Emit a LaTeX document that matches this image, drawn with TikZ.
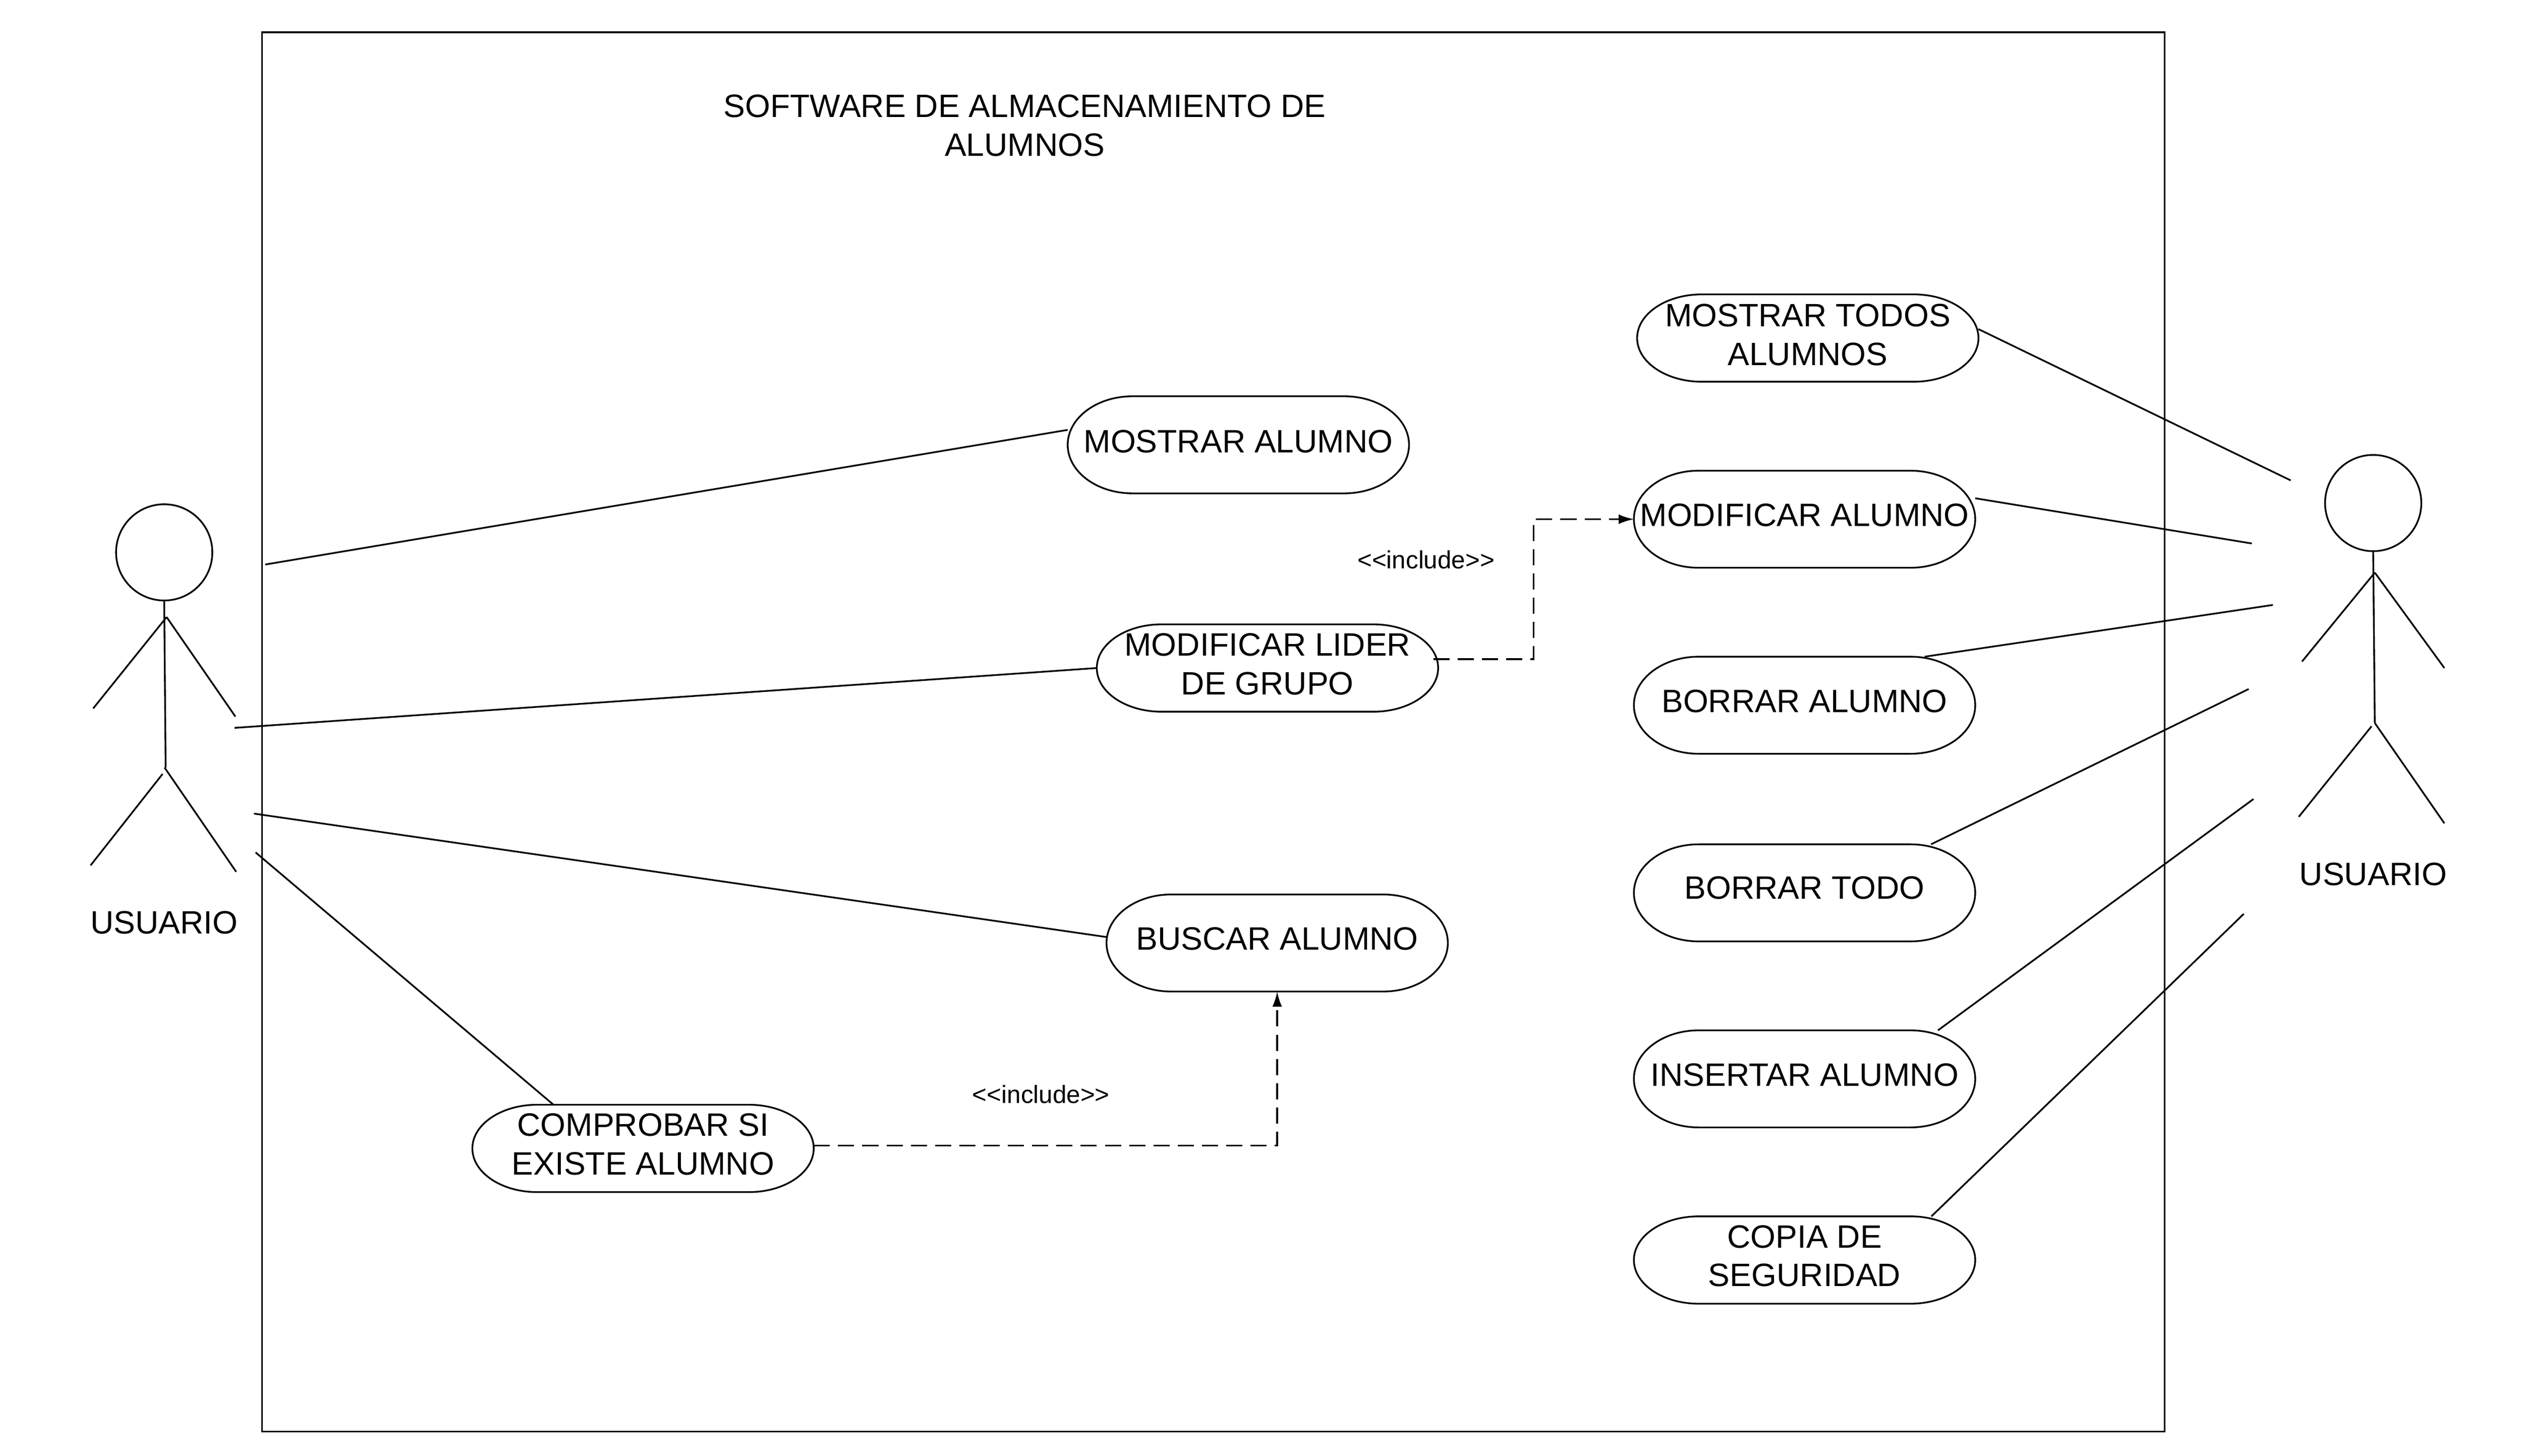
\documentclass[tikz,border=0pt]{standalone}
\usepackage{fontspec}
\setmainfont{Liberation Sans}
\usetikzlibrary{arrows.meta}
\tikzset{
  ln/.style={draw=black,line width=1.05pt},
  dashln/.style={ln,dash pattern=on 10pt off 5pt,-{Latex[length=9.4pt,width=6pt]}},
  pillbox/.style={rectangle,inner sep=0pt,outer sep=0pt},
  lab/.style={inner sep=0pt,outer sep=0pt,align=center,font=\fontsize{20}{24}\selectfont},
  smalllab/.style={inner sep=0pt,outer sep=0pt,align=center,font=\fontsize{15.4}{19}\selectfont},
  headc/.style={circle,draw=black,line width=1.05pt,minimum size=59.5pt,inner sep=0pt,outer sep=0pt}
}
% name, x1, x2, y1, y2, text y centre, text
\newcommand{\pill}[7]{%
  \node[pillbox,minimum width={(#3-#2)*1pt},minimum height={(#5-#4)*1pt}] (#1) at ({(#2+#3)/2},{(#4+#5)/2}) {};
  \draw[ln] ({#2+40},#4) -- ({#3-40},#4) arc[start angle=90,end angle=0,x radius=40pt,y radius={(#5-#4)/2*1pt}]
    arc[start angle=0,end angle=-90,x radius=40pt,y radius={(#5-#4)/2*1pt}] -- ({#2+40},#5)
    arc[start angle=-90,end angle=-180,x radius=40pt,y radius={(#5-#4)/2*1pt}]
    arc[start angle=180,end angle=90,x radius=40pt,y radius={(#5-#4)/2*1pt}] -- cycle;
  \node[lab] (#1-text) at ({(#2+#3)/2},#6) {#7};
}
\begin{document}
\begin{tikzpicture}[x=1pt,y=-1pt]
\useasboundingbox (0,0) rectangle (1559,900);
\fill[white] (0,0) rectangle (1559,900);
\node[pillbox,draw=black,line width=1.05pt,minimum width=1176pt,minimum height=865pt] (frame) at (750,452.5) {};
\node[lab] (title) at (633.5,77.5) {SOFTWARE DE ALMACENAMIENTO DE\\ALUMNOS};

\pill{todos}{1012}{1223}{182}{236}{207}{MOSTRAR TODOS\\ALUMNOS}
\pill{mostrar}{660}{871}{245}{305}{273}{MOSTRAR ALUMNO}
\pill{lider}{678}{889}{386}{440}{410.5}{MODIFICAR LIDER\\DE GRUPO}
\pill{modal}{1010}{1221}{291}{351}{318.5}{MODIFICAR ALUMNO}
\pill{borral}{1010}{1221}{406}{466}{433.5}{BORRAR ALUMNO}
\pill{borrat}{1010}{1221}{522}{582}{549}{BORRAR TODO}
\pill{insert}{1010}{1221}{637}{697}{664.5}{INSERTAR ALUMNO}
\pill{copia}{1010}{1221}{752}{806}{776.5}{COPIA DE\\SEGURIDAD}
\pill{buscar}{684}{895}{553}{613}{580.5}{BUSCAR ALUMNO}
\pill{compr}{292}{503}{683}{737}{707.5}{COMPROBAR SI\\EXISTE ALUMNO}

% left actor
\node[headc] (headL) at (101.5,341.5) {};
\coordinate (bodyL) at (102.4,474.5);
\coordinate (armL) at (103,381.5);
\coordinate (handLa) at (57.6,438);
\coordinate (handLb) at (145.5,443);
\coordinate (hipLa) at (100.5,478.5);
\coordinate (hipLb) at (101.7,474.5);
\coordinate (footLa) at (56,535);
\coordinate (footLb) at (146,539);
\draw[ln] (headL.south) -- (bodyL);
\draw[ln] (armL) -- (handLa);
\draw[ln] (armL) -- (handLb);
\draw[ln] (hipLa) -- (footLa);
\draw[ln] (hipLb) -- (footLb);
\node[lab] (userL) at (101.5,570.5) {USUARIO};

% right actor
\node[headc] (headR) at (1467,311) {};
\coordinate (armR) at (1468,354);
\coordinate (handRa) at (1423,409);
\coordinate (handRb) at (1511,413);
\coordinate (hipRa) at (1466,449);
\coordinate (hipRb) at (1468,447);
\coordinate (footRa) at (1421,505);
\coordinate (footRb) at (1511,509);
\draw[ln] (headR.south) -- (hipRb);
\draw[ln] (armR) -- (handRa);
\draw[ln] (armR) -- (handRb);
\draw[ln] (hipRa) -- (footRa);
\draw[ln] (hipRb) -- (footRb);
\node[lab] (userR) at (1467,540.5) {USUARIO};

% actor connectors
\coordinate (l1) at (164,349);
\coordinate (l2) at (145,450);
\coordinate (l3) at (157,503);
\coordinate (l4) at (158,527);
\draw[ln] (l1) -- (mostrar.175);
\draw[ln] (l2) -- (lider.west);
\draw[ln] (l3) -- (buscar.178);
\draw[ln] (l4) -- (compr.154);

\coordinate (r1) at (1416,297);
\coordinate (r2) at (1392,336);
\coordinate (r3) at (1405,374);
\coordinate (r4) at (1390,426);
\coordinate (r5) at (1393,494);
\coordinate (r6) at (1387,565);
\draw[ln] (r1) -- (todos.3.8);
\draw[ln] (r2) -- (modal.7.6);
\draw[ln] (r3) -- (borral.22.4);
\draw[ln] (r4) -- (borrat.21.5);
\draw[ln] (r5) -- (insert.20.9);
\draw[ln] (r6) -- (copia.19);

% include
\draw[dashln] ([xshift=-3pt]lider.3.8) -- ++(62,0) |- (modal.west);
\draw[dashln] (compr.1.6) -| (buscar.south);
\node[smalllab] (inc1) at (881.5,346) {<{}<include>{}>};
\node[smalllab] (inc2) at (643.5,676.5) {<{}<include>{}>};
\end{tikzpicture}
\end{document}
